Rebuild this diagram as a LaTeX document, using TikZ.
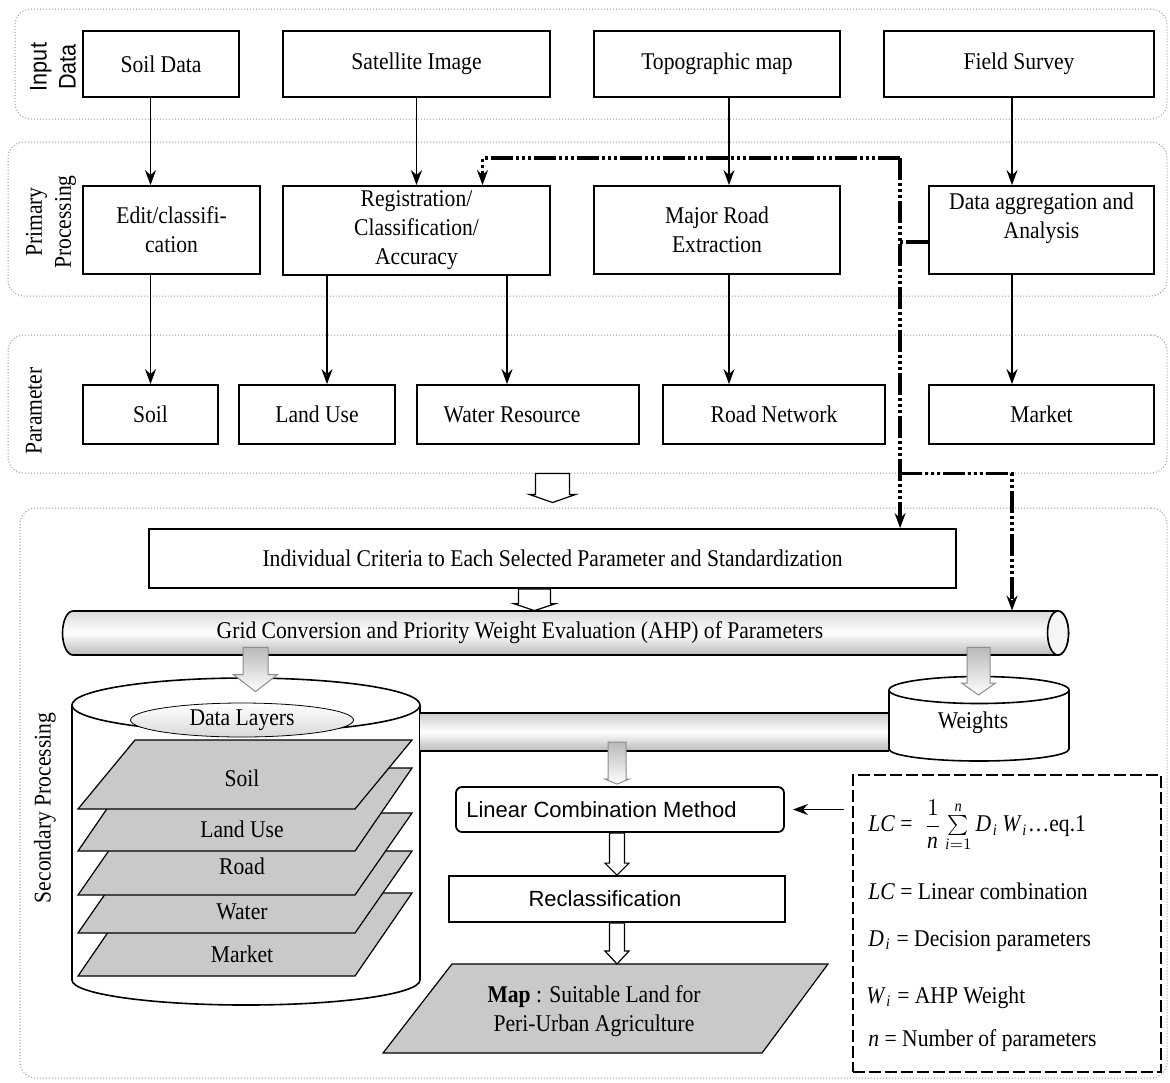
\documentclass[tikz,border=0pt]{standalone}
\usepackage{fontspec}
\setmainfont{Liberation Serif}[FakeStretch=0.9]
\setsansfont{Liberation Sans}
\newfontfamily\tagsans{Liberation Sans}[FakeStretch=0.9]
\usetikzlibrary{arrows.meta, calc, shapes.geometric}

% block arrow pointing down: [style]{top}{tip}{shaft half}{head half}{head length}
\newcommand{\blockarrow}[6][]{%
  \path[#1] let \p1=(#2), \p2=(#3) in
    (\x1-#4,\y1) -- (\x1-#4,\y2+#6) -- (\x1-#5,\y2+#6) -- (\x1,\y2)
    -- (\x1+#5,\y2+#6) -- (\x1+#4,\y2+#6) -- (\x1+#4,\y1) -- cycle;}

\begin{document}
\begin{tikzpicture}[x=0.5pt, y=-0.5pt, >={Stealth[length=7.5pt, width=5.5pt, inset=2.5pt]},
    font=\fontsize{12}{14.5}\selectfont,
    box/.style={draw, line width=0.9pt, align=center, inner sep=2pt},
    band/.style={draw=gray!80, densely dotted, line width=0.5pt, rounded corners=8pt},
    tag/.style={rotate=90, align=center},
    flow/.style={->, line width=0.9pt},
    feedback/.style={line width=1.7pt, dash pattern=on 11pt off 1.5pt on 1.5pt off 1.5pt on 1.5pt off 1.5pt on 1.5pt off 1.5pt},
    hollow/.style={draw, fill=white, line width=0.6pt},
    greyarrow/.style={draw=gray!90, top color=gray!55, bottom color=white, line width=0.5pt},
    tube/.style={top color=gray!30, bottom color=gray!55, middle color=white, draw, line width=0.8pt},
    layer/.style={draw, fill=gray!42, line width=0.6pt},
    sans/.style={font=\fontsize{11}{13}\selectfont\sffamily}]

  \useasboundingbox (0,0) rectangle (1170,1082);

  % bands
  \node[band, minimum width=576pt, minimum height=55pt] (inband) at (591,64) {};
  \node[band, minimum width=579.5pt, minimum height=77pt] (ppband) at (587.5,219) {};
  \node[band, minimum width=579.5pt, minimum height=69pt] (parband) at (587.5,404) {};
  \node[band, minimum width=573.5pt, minimum height=285pt] (secband) at (593.5,793) {};

  \node[tag, font=\tagsans\fontsize{12}{14.5}\selectfont] (tin) at (53,67) {Input\\Data};
  \node[tag] (tpp) at (51,222) {Primary\\Processing};
  \node[tag] (tpar) at (34,411) {Parameter};
  \node[tag] (tsec) at (45,808) {Secondary Processing};

  % input data
  \node[box, minimum width=78pt, minimum height=33pt] (soildata) at (161,64) {Soil Data};
  \node[box, minimum width=133.5pt, minimum height=33pt] (satellite) at (416.5,64) {Satellite Image};
  \node[box, minimum width=123pt, minimum height=33pt] (topo) at (717,64) {Topographic map};
  \node[box, minimum width=135pt, minimum height=33pt] (field) at (1019,64) {Field Survey};

  % primary processing
  \node[box, minimum width=88.5pt, minimum height=44pt] (edit) at (171.5,230) {Edit/classifi-\\cation};
  \node[box, minimum width=133.5pt, minimum height=44.5pt] (reg) at (416.5,230.5) {Registration/\\Classification/\\Accuracy};
  \node[box, minimum width=123pt, minimum height=44pt] (road) at (717,230) {Major Road\\Extraction};
  \node[box, minimum width=112.5pt, minimum height=44pt] (aggr) at (1041.5,230) {Data aggregation and\\Analysis\\\mbox{}};

  % parameters
  \node[box, minimum width=67.5pt, minimum height=29.5pt] (psoil) at (150.5,414.5) {Soil};
  \node[box, minimum width=78pt, minimum height=29.5pt] (pland) at (317,414.5) {Land Use};
  \node[box, minimum width=111pt, minimum height=29.5pt] (pwater) at (528,414.5) {Water Resource\hspace*{16pt}};
  \node[box, minimum width=111pt, minimum height=29.5pt] (proad) at (774,414.5) {Road Network};
  \node[box, minimum width=112.5pt, minimum height=29.5pt] (pmarket) at (1041.5,414.5) {Market};

  \coordinate (fx) at ([xshift=-3.5pt]field.south);

  \draw[flow] (soildata.south -| psoil) -- (edit.north -| psoil);
  \draw[flow] (edit.south -| psoil) -- (psoil.north);
  \draw[flow] (satellite.south) -- (reg.north);
  \draw[flow] ([xshift=5pt]pland.north |- reg.south) -- ([xshift=5pt]pland.north);
  \draw[flow] ([xshift=-10.5pt]pwater.north |- reg.south) -- ([xshift=-10.5pt]pwater.north);
  \draw[flow] ([xshift=6pt]topo.south) -- ([xshift=6pt]topo.south |- road.north);
  \draw[flow] ([xshift=6pt]topo.south |- road.south) -- ([xshift=6pt]topo.south |- proad.north);
  \draw[flow] (fx) -- (fx |- aggr.north);
  \draw[flow] (fx |- aggr.south) -- (fx |- pmarket.north);

  % secondary processing
  \node[box, minimum width=403.5pt, minimum height=29.5pt] (crit) at (552.5,558.5)
    {Individual Criteria to Each Selected Parameter and Standardization};

  \blockarrow[hollow]{parband.south -| crit.north}{[yshift=2.5pt]secband.north -| crit.north}{8.5pt}{11.5pt}{4pt}

  % data layers store
  \filldraw[fill=white, line width=0.8pt] (72,705) -- (72,980)
    arc[start angle=180, end angle=360, x radius=87pt, y radius=12.5pt] -- (420,705)
    arc[start angle=0, end angle=180, x radius=87pt, y radius=13.5pt] -- cycle;
  \draw[line width=0.8pt] (72,705) arc[start angle=180, end angle=360, x radius=87pt, y radius=13.5pt];
  \node[draw, ellipse, minimum width=111.5pt, minimum height=17pt, inner sep=0pt,
    top color=white, bottom color=gray!30] (dl) at (242,720) {Data Layers};
  \foreach \ya/\yb/\lid/\lname/\ty in {893/976/market/Market/954, 851/933/water/Water/912,
      813/895/road/Road/866, 768/851/landuse/Land Use/829, 740/809/soil/Soil/778} {
    \filldraw[layer] (78,\yb) -- (355,\yb) -- (412,\ya) -- (135,\ya) -- cycle;
    \node (l-\lid) at (242,\ty) {\lname};
  }

  % link bar and weights store
  \shade[top color=gray!40, bottom color=gray!55, middle color=white] (420,713) rectangle (889,751);
  \draw[line width=0.8pt] (420,713) -- (889,713) (420,751) -- (889,751);
  \filldraw[fill=white, line width=0.8pt] (889,690) -- (889,749)
    arc[start angle=180, end angle=360, x radius=45pt, y radius=6pt] -- (1069,690)
    arc[start angle=0, end angle=180, x radius=45pt, y radius=6.75pt] -- cycle;
  \draw[line width=0.8pt] (889,690) arc[start angle=180, end angle=360, x radius=45pt, y radius=6.75pt];
  \node (wt) at (973,723) {Weights};

  % grid conversion tube
  \draw[tube] (1058,611) -- (73,611) arc[start angle=90, end angle=270, x radius=5.25pt, y radius=11pt]
    -- (1058,655) arc[start angle=-90, end angle=90, x radius=5.25pt, y radius=11pt] -- cycle;
  \draw[fill=gray!8, line width=0.8pt] (1058,633) ellipse[x radius=5.25pt, y radius=11pt];
  \node[minimum width=493pt, minimum height=22pt, inner sep=0pt] (grid) at (566,633)
    {Grid Conversion and Priority Weight Evaluation (AHP) of Parameters\hspace*{46pt}};

  \blockarrow[hollow]{[xshift=-9pt]crit.south}{[xshift=-9pt]crit.south |- grid.north}{8pt}{10.5pt}{3.5pt}
  \blockarrow[greyarrow]{[xshift=6.75pt,yshift=4pt]dl.north |- grid.south}{[xshift=6.75pt,yshift=5.5pt]dl.north}{6.25pt}{11pt}{8.5pt}
  \blockarrow[greyarrow]{[xshift=2.75pt,yshift=4pt]wt.center |- grid.south}{[xshift=2.75pt,yshift=14pt]wt.center}{5.75pt}{8.5pt}{6pt}

  % combination, reclassification, map
  \node[box, rounded corners=3pt, sans, minimum width=164pt, minimum height=22.5pt] (lc) at (620,809.5)
    {Linear Combination Method\hspace*{18.5pt}};
  \node[box, sans, minimum width=168pt, minimum height=23pt] (reclass) at (617,899)
    {Reclassification\hspace*{12pt}};
  \filldraw[layer] (383,1053) -- (762,1053) -- (828,964) -- (452,964) -- cycle;
  \coordinate (maptop) at (617,964);
  \node[align=center] (map) at (594,1011) {\textbf{Map} : Suitable Land for\\Peri-Urban Agriculture};

  \blockarrow[greyarrow]{[xshift=-1.5pt,yshift=22pt]lc.north}{[xshift=-1.5pt,yshift=1pt]lc.north}{4.5pt}{6pt}{2.5pt}
  \blockarrow[hollow]{lc.south -| reclass.north}{reclass.north}{3.75pt}{6pt}{6pt}
  \blockarrow[hollow]{reclass.south}{maptop}{3.75pt}{6pt}{6.5pt}

  % formula
  \node[draw, dash pattern=on 6pt off 2pt, line width=0.6pt, minimum width=154pt, minimum height=148.5pt] (fbox) at (1007,923.5) {};
  \node[anchor=west, inner sep=0pt] (eq) at (868,826)
    {\textit{LC} =\enspace $\displaystyle\frac{1}{\mathit{n}}\textstyle\sum\limits_{\mathit{i}=1}^{\mathit{n}}\mathit{D}_{\mathit{i}}\,\mathit{W}_{\mathit{i}}$\ldots eq.1};
  \node[anchor=base west, inner sep=0pt] (d1) at (868,899) {\textit{LC} = Linear combination};
  \node[anchor=base west, inner sep=0pt] (d2) at (868,946) {$\mathit{D}_{\mathit{i}}$ = Decision parameters};
  \node[anchor=base west, inner sep=0pt] (d3) at (866,1003) {$\mathit{W}_{\mathit{i}}$ = AHP Weight};
  \node[anchor=base west, inner sep=0pt] (d4) at (868,1046) {\textit{n} = Number of parameters};
  \draw[flow] ([xshift=-4pt]fbox.west |- lc.east) -- ([xshift=4pt]lc.east);

  % feedback from field survey
  \coordinate (hub) at ([xshift=-14pt, yshift=-6pt]aggr.west);
  \coordinate (fbtop) at ([yshift=13.5pt]hub |- reg.north);
  \draw[feedback] ([yshift=-6pt]aggr.west) -- (hub);
  \draw[feedback, ->] (fbtop) -| ([xshift=33pt]reg.north);
  \draw[feedback, ->] (fbtop) -- (hub |- crit.north);
  \draw[feedback, ->] (hub |- parband.south) -| (fx |- grid.north);
\end{tikzpicture}
\end{document}
